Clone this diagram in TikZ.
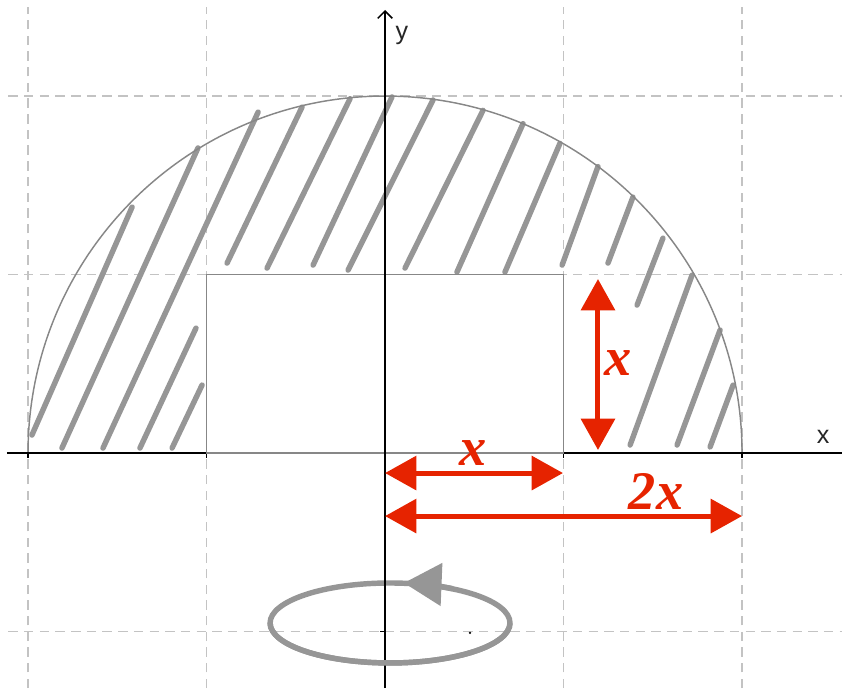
\documentclass[tikz,border=0pt]{standalone}
\usepackage{fontspec}
\setmainfont{Liberation Serif}
\newfontfamily\axisfont{Liberation Sans}
\usetikzlibrary{arrows.meta}

\definecolor{dimred}{RGB}{230,35,0}
\definecolor{hatchgray}{RGB}{150,150,150}
\definecolor{gridgray}{RGB}{195,195,195}
\definecolor{edgegray}{RGB}{135,135,135}

\tikzset{
  gridline/.style={gridgray, line width=0.7pt, dash pattern=on 4.5pt off 3pt},
  hatchline/.style={hatchgray, line width=2.6pt, line cap=round},
  edgeline/.style={edgegray, line width=0.7pt},
  turnline/.style={hatchgray, line width=2.6pt},
  dimarrow/.style={dimred, line width=2.4pt,
    {Triangle[length=15pt,width=16pt]}-{Triangle[length=15pt,width=16pt]}},
  dimlabel/.style={dimred, font=\fontsize{26}{30}\selectfont\bfseries\itshape, inner sep=0pt, anchor=base},
  axislabel/.style={font=\axisfont\fontsize{12}{14}\selectfont, text=black!85, inner sep=0pt, anchor=base},
}

\begin{document}
\begin{tikzpicture}[x=3cm, y=3cm]
    \useasboundingbox (-2.157,-1.317) rectangle (2.560,2.538);
    % Grid
    \draw[gridline] (-2,-1.317) -- (-2,2.50);
    \draw[gridline] (-1,-1.317) -- (-1,2.50);
    \draw[gridline] (1,-1.317) -- (1,2.50);
    \draw[gridline] (2,-1.317) -- (2,2.50);
    \draw[gridline] (-2.11,2) -- (2.56,2);
    \draw[gridline] (-2.11,1) -- (2.56,1);
    \draw[gridline] (-2.11,-1) -- (2.56,-1);
    % Hatching (shaded region)
    \draw[hatchline] (-1.978,0.101) -- (-1.417,1.378) (-1.810,0.028) -- (-1.048,1.709)
      (-1.580,0.028) -- (-0.711,1.910) (-1.373,0.028) -- (-1.059,0.700)
      (-1.193,0.028) -- (-1.025,0.381) (-0.885,1.064) -- (-0.465,1.938)
      (-0.661,1.036) -- (-0.196,1.985) (-0.403,1.053) -- (0.039,1.995)
      (-0.207,1.025) -- (0.269,1.978) (0.112,1.036) -- (0.549,1.920)
      (0.403,1.014) -- (0.773,1.845) (0.672,1.014) -- (0.980,1.735)
      (0.992,1.053) -- (1.193,1.605) (1.249,1.064) -- (1.389,1.434)
      (1.412,0.829) -- (1.557,1.204) (1.373,0.045) -- (1.720,0.997)
      (1.636,0.045) -- (1.877,0.689) (1.821,0.034) -- (1.950,0.381);
    % Semicircle
    \draw[edgeline] (2,0) arc (0:180:2);
    % x axis and ticks
    \draw[line width=0.7pt] (-2.118,0) -- (2.56,0);
    \draw[line width=0.7pt] (-2,0) -- (-2,-0.03) (-1,0) -- (-1,-0.03)
      (1,0) -- (1,-0.03) (2,0) -- (2,-0.03);
    % Rectangle
    \draw[edgeline, fill=white] (-1,0) rectangle (1,1);
    % Rotation (back half)
    \draw[turnline] (0.028,-0.952) ellipse [x radius=0.672, y radius=0.224];
    % y axis
    \draw[line width=0.7pt, -{Straight Barb[length=3.5pt,width=7pt]}] (0,-1.317) -- (0,2.482);
    \draw[line width=0.7pt] (0,-1) -- (-0.03,-1);
    \fill (0.476,-1.008) circle (0.6pt);
    % Rotation (front half and arrow)
    \draw[turnline] (0.700,-0.952) arc[start angle=0, end angle=-180, x radius=0.672, y radius=0.224];
    \draw[turnline, -{Triangle[length=18pt,width=20pt]}] (0.380,-0.760)
      arc[start angle=58, end angle=83, x radius=0.672, y radius=0.224];
    % Axis labels
    \node[axislabel] (xlab) at (2.454,0.056) {x};
    \node[axislabel] (ylab) at (0.095,2.314) {y};
    % Dimensions
    \coordinate (vtop) at (1.193,0.975);
    \coordinate (vbot) at (1.193,0.017);
    \coordinate (hx0) at (0,-0.112);
    \coordinate (hx1) at (0.997,-0.112);
    \coordinate (hw0) at (0,-0.353);
    \coordinate (hw1) at (2,-0.353);
    \draw[dimarrow] (vtop) -- (vbot);
    \draw[dimarrow] (hx0) -- (hx1);
    \draw[dimarrow] (hw0) -- (hw1);
    \node[dimlabel] (hgt) at (1.305,0.437) {x};
    \node[dimlabel] (half) at (0.493,-0.067) {x};
    \node[dimlabel] (full) at (1.518,-0.319) {2x};
\end{tikzpicture}
\end{document}
